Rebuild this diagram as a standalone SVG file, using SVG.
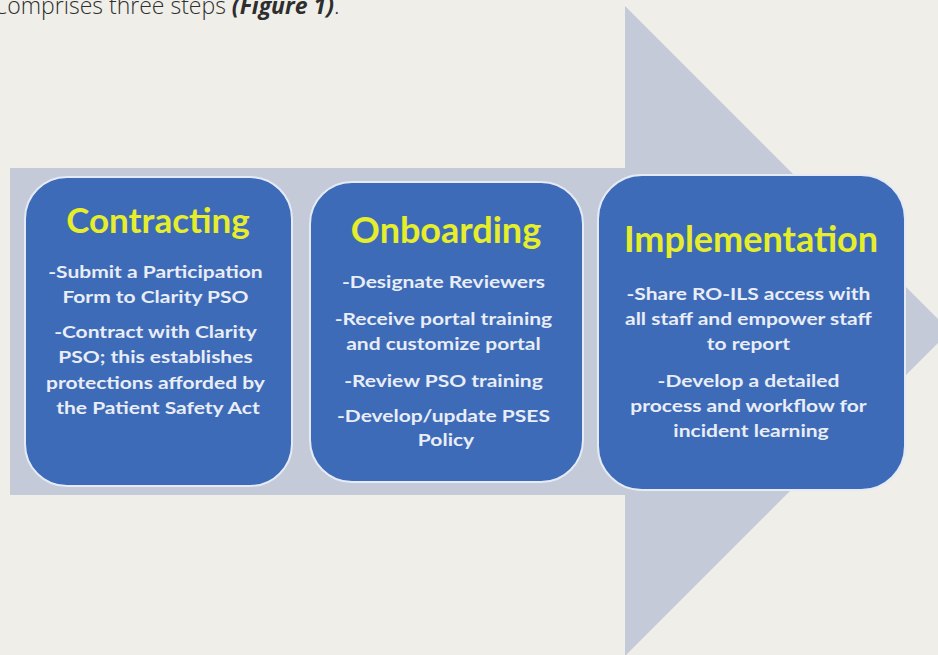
<svg xmlns="http://www.w3.org/2000/svg" width="938" height="655" viewBox="0 0 938 655">
  <defs>
    <style>
      .lead { font-family: "Open Sans", "Liberation Sans", sans-serif; font-size: 23px; font-weight: 300; fill: #2e2e2e; }
      .lead-em { font-weight: 700; font-style: italic; }
      .box { fill: #3e6bb8; stroke: #e4ebf6; stroke-width: 2; }
      .title { font-family: Lato, "Open Sans", sans-serif; font-weight: 700; fill: #e6ee2c; text-anchor: middle; }
      .body { font-family: Lato, "Open Sans", sans-serif; font-weight: 700; font-size: 17.5px; fill: #e9edf6; text-anchor: middle; }
    </style>
  </defs>

  <!-- page background -->
  <rect x="0" y="0" width="938" height="655" fill="#efeee9"/>

  <!-- lead-in sentence, running off the left edge -->
  <text class="lead" x="-7" y="14">Comprises three steps <tspan class="lead-em">(Figure 1)</tspan>.</text>

  <!-- big block arrow behind the steps -->
  <g id="arrow">
    <polygon points="10,168 625,168 625,6 950,331 625,656 625,495 10,495" fill="#c5cad9"/>
  </g>

  <g id="contracting">
    <rect class="box" x="25" y="177" width="267" height="309" rx="42" ry="42"/>
    <text class="title" x="158" y="233" font-size="35">Contracting</text>
    <!-- body copy is set wide: scaled horizontally about the box centre -->
    <text class="body" transform="translate(158 0) scale(1.2 1)">
      <tspan x="0" y="278">-Submit a Participation</tspan>
      <tspan x="0" y="303">Form to Clarity PSO</tspan>
      <tspan x="0" y="338">-Contract with Clarity</tspan>
      <tspan x="0" y="363">PSO; this establishes</tspan>
      <tspan x="0" y="389">protections afforded by</tspan>
      <tspan x="0" y="414">the Patient Safety Act</tspan>
    </text>
  </g>

  <g id="onboarding">
    <rect class="box" x="310" y="182" width="273" height="300" rx="42" ry="42"/>
    <text class="title" x="446" y="243" font-size="36">Onboarding</text>
    <text class="body" transform="translate(446 0) scale(1.2 1)">
      <tspan x="0" y="288">-Designate Reviewers</tspan>
      <tspan x="0" y="325">-Receive portal training</tspan>
      <tspan x="0" y="350">and customize portal</tspan>
      <tspan x="0" y="387">-Review PSO training</tspan>
      <tspan x="0" y="422">-Develop/update PSES</tspan>
      <tspan x="0" y="446">Policy</tspan>
    </text>
  </g>

  <g id="implementation">
    <rect class="box" x="598" y="175" width="307" height="315" rx="44" ry="44"/>
    <text class="title" x="751" y="252" font-size="36">Implementation</text>
    <text class="body" transform="translate(751 0) scale(1.2 1)">
      <tspan x="0" y="300">-Share RO-ILS access with</tspan>
      <tspan x="0" y="325">all staff and empower staff</tspan>
      <tspan x="0" y="350">to report</tspan>
      <tspan x="0" y="387">-Develop a detailed</tspan>
      <tspan x="0" y="412">process and workflow for</tspan>
      <tspan x="0" y="437">incident learning</tspan>
    </text>
  </g>

  <!-- no separate connectors: the block arrow carries the flow -->
  <g id="connectors"/>
</svg>
